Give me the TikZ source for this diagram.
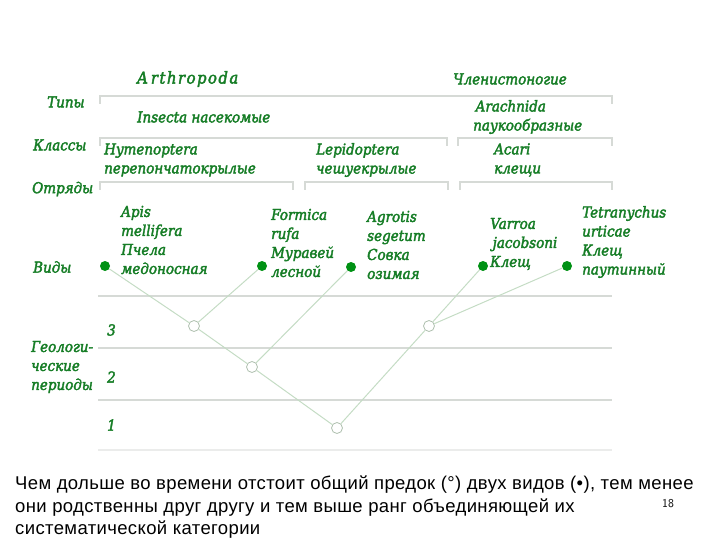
\documentclass[tikz,border=0pt]{standalone}
\usepackage{fontspec}
\setmainfont{DejaVu Serif}
\newfontfamily\taxfont[FakeStretch=0.9, FakeBold=2.5]{DejaVu Serif}
\newfontfamily\capfont[LetterSpace=2]{Liberation Sans}
\definecolor{txtgreen}{RGB}{22,125,38}
\definecolor{dotgreen}{RGB}{0,145,20}
\definecolor{brkgray}{RGB}{214,218,214}
\definecolor{treeline}{RGB}{196,220,196}

\begin{document}
\begin{tikzpicture}[
    x=1pt, y=-1pt,
    lab/.style={font=\taxfont\fontsize{15}{19}\selectfont\itshape, text=txtgreen,
                anchor=west, align=left, inner sep=0pt},
    brk/.style={draw=brkgray, line width=1.4pt},
    band/.style={draw=brkgray, line width=1.2pt},
    spdot/.style={circle, fill=dotgreen, inner sep=0pt, minimum size=10pt},
    anc/.style={circle, draw=treeline!70!gray, fill=white, line width=0.8pt,
                inner sep=0pt, minimum size=11pt},
    link/.style={draw=treeline, line width=1pt},
  ]
    \useasboundingbox (0,0) rectangle (720,540);

    % Rank labels
    \node[lab] (tipy)   at (47, 102)  {Типы};
    \node[lab] (klassy) at (33, 145)  {Классы};
    \node[lab] (otryad) at (32, 189)  {Отряды};
    \node[lab] (vidy)   at (33, 267)  {Виды};
    \node[lab] (geo)    at (31, 367)  {Геологи-\\ческие\\периоды};

    % Brackets
    \draw[brk] (100, 104) -- (100, 96) -- (612, 96) -- (612, 104);
    \draw[brk] (100, 146) -- (100, 138) -- (447, 138) -- (447, 146);
    \draw[brk] (458, 146) -- (458, 138) -- (612, 138) -- (612, 146);
    \draw[brk] (100, 190) -- (100, 182) -- (293, 182) -- (293, 190);
    \draw[brk] (305, 190) -- (305, 182) -- (448, 182) -- (448, 190);
    \draw[brk] (460, 190) -- (460, 182) -- (612, 182) -- (612, 190);

    % Taxa
    \node[lab, font=\taxfont\fontsize{16.5}{19}\selectfont\itshape] (arth) at (137, 79)
      {A\hspace{3pt}{\addfontfeature{LetterSpace=9}rthropoda}};
    \node[lab] (chlen)   at (453, 79)  {Членистоногие};
    \node[lab] (insecta) at (137, 117) {Insecta насекомые};
    \node[lab] (arach)   at (473, 117) {\,Arachnida\\паукообразные};
    \node[lab] (hymen)   at (104, 160) {Hymenoptera\\перепончатокрылые};
    \node[lab] (lepi)    at (316, 160) {Lepidoptera\\чешуекрылые};
    \node[lab] (acari)   at (494, 160) {Acari\\клещи};

    % Species
    \node[lab] (apis)    at (121, 240) {Apis\\mellifera\\Пчела\\медоносная};
    \node[lab] (formica) at (271, 243) {Formica\\rufa\\Муравей\\лесной};
    \node[lab] (agrotis) at (367, 245) {Agrotis\\segetum\\Совка\\озимая};
    \node[lab] (varroa)  at (490, 244) {Varroa\\\,jacobsoni\\Клещ};
    \node[lab] (tetra)   at (582, 242) {Tetranychus\\urticae\\Клещ\\паутинный};

    % Periods
    \draw[band] (98, 296) -- (612, 296);
    \draw[band] (98, 348) -- (612, 348);
    \draw[band] (98, 400) -- (612, 400);
    \draw[band, brkgray!50] (98, 450) -- (612, 450);
    \node[lab] (p3) at (107, 330) {3};
    \node[lab] (p2) at (107, 377) {2};
    \node[lab] (p1) at (107, 425) {1};

    % Species dots and ancestors
    \node[spdot] (dapis)    at (105, 266) {};
    \node[spdot] (dformica) at (262, 266) {};
    \node[spdot] (dagrotis) at (351, 267) {};
    \node[spdot] (dvarroa)  at (483, 266) {};
    \node[spdot] (dtetra)   at (567, 266) {};
    \node[anc] (aHF)  at (194, 326) {};
    \node[anc] (aHL)  at (252, 367) {};
    \node[anc] (aAll) at (337, 428) {};
    \node[anc] (aAc)  at (429, 326) {};

    \draw[link] (dapis) -- (aHF);
    \draw[link] (dformica) -- (aHF);
    \draw[link] (aHF) -- (aHL);
    \draw[link] (dagrotis) -- (aHL);
    \draw[link] (aHL) -- (aAll);
    \draw[link] (dvarroa) -- (aAc);
    \draw[link] (dtetra) -- (aAc);
    \draw[link] (aAc) -- (aAll);

    % Caption
    \node[anchor=north west, align=left, inner sep=0pt,
          font=\capfont\fontsize{18.5}{22.5}\selectfont] (cap) at (15, 476)
      {Чем дольше во времени отстоит общий предок (°) двух видов (•), тем менее\\
       они родственны друг другу и тем выше ранг объединяющей их\\
       систематической категории};
    \node[anchor=west, inner sep=0pt, font=\sffamily\fontsize{12}{14}\selectfont]
      (pgno) at (662, 504) {18};
  \end{tikzpicture}
\end{document}
